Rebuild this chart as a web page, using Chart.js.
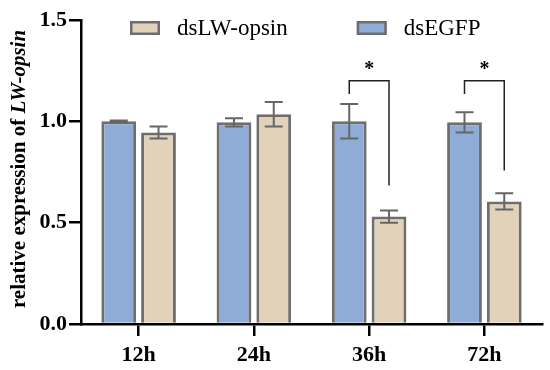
<!DOCTYPE html>
<html>
<head>
<meta charset="UTF-8">
<script src="https://cdn.jsdelivr.net/npm/chart.js"></script>
<style>
    body { margin: 0; background: #fff; }
</style>
</head>
<body>
<canvas id="myChart" width="550" height="370"></canvas>
<script>
    const categorias = ['12h', '24h', '36h', '72h'];
    const egfp = [1.0, 0.995, 1.0, 0.995];
    const egfpErr = [0.004, 0.02, 0.085, 0.05];
    const lwOpsin = [0.945, 1.035, 0.53, 0.605];
    const lwOpsinErr = [0.03, 0.06, 0.03, 0.04];
    const yTicks = [0, 0.5, 1.0, 1.5];

    // brackets de significancia (36h e 72h)
    const sigTexto = [null, null, '*', '*'];
    const sigTopo = [null, null, 1.2, 1.2];
    const sigEsq = [null, null, 1.135, 1.135];
    const sigDir = [null, null, 0.683, 0.758];

    const erros = [egfpErr, lwOpsinErr];
    const serif = '"Liberation Serif", "Times New Roman", serif';

    // barras de erro
    const barrasErro = {
        id: 'barrasErro',
        afterDatasetsDraw(chart) {
            const ctx = chart.ctx, y = chart.scales.y;
            ctx.save();
            ctx.strokeStyle = '#666';
            ctx.lineWidth = 2;
            chart.data.datasets.forEach((ds, i) => {
                chart.getDatasetMeta(i).data.forEach((bar, j) => {
                    const v = ds.data[j], e = erros[i][j];
                    const yHi = y.getPixelForValue(v + e), yLo = y.getPixelForValue(v - e);
                    ctx.beginPath();
                    ctx.moveTo(bar.x, yHi); ctx.lineTo(bar.x, yLo);
                    ctx.moveTo(bar.x - 9, yHi); ctx.lineTo(bar.x + 9, yHi);
                    ctx.moveTo(bar.x - 9, yLo); ctx.lineTo(bar.x + 9, yLo);
                    ctx.stroke();
                });
            });
            ctx.restore();
        }
    };

    // colchetes com asterisco
    const colchetes = {
        id: 'colchetes',
        afterDatasetsDraw(chart) {
            const ctx = chart.ctx, y = chart.scales.y;
            const a = chart.getDatasetMeta(0).data, b = chart.getDatasetMeta(1).data;
            ctx.save();
            ctx.strokeStyle = '#222';
            ctx.lineWidth = 1.5;
            ctx.fillStyle = '#000';
            ctx.font = 'bold 20px ' + serif;
            ctx.textAlign = 'center';
            ctx.textBaseline = 'middle';
            sigTexto.forEach((t, j) => {
                if (!t) return;
                const x1 = a[j].x, x2 = b[j].x, yt = y.getPixelForValue(sigTopo[j]);
                ctx.beginPath();
                ctx.moveTo(x1, y.getPixelForValue(sigEsq[j]));
                ctx.lineTo(x1, yt);
                ctx.lineTo(x2, yt);
                ctx.lineTo(x2, y.getPixelForValue(sigDir[j]));
                ctx.stroke();
                ctx.fillText(t, (x1 + x2) / 2, yt - 11);
            });
            ctx.restore();
        }
    };

    // legenda dentro da area do grafico
    const legendaInterna = {
        id: 'legendaInterna',
        afterDraw(chart) {
            const ctx = chart.ctx, area = chart.chartArea;
            let x = area.left + 49;
            const yc = area.top + 8;
            ctx.save();
            ctx.font = '23px ' + serif;
            ctx.textBaseline = 'middle';
            [1, 0].forEach(i => {
                const ds = chart.data.datasets[i];
                ctx.fillStyle = ds.backgroundColor;
                ctx.fillRect(x, yc - 7, 30, 14);
                ctx.strokeStyle = ds.borderColor;
                ctx.lineWidth = 2.5;
                ctx.strokeRect(x + 1.25, yc - 5.75, 27.5, 11.5);
                ctx.fillStyle = '#000';
                ctx.fillText(ds.label, x + 47, yc + 1);
                x += 47 + ctx.measureText(ds.label).width + 69;
            });
            ctx.restore();
        }
    };

    // titulo do eixo y com parte em italico
    const tituloY = {
        id: 'tituloY',
        afterDraw(chart) {
            const ctx = chart.ctx, area = chart.chartArea;
            const p1 = 'relative expression of ', p2 = 'LW-opsin';
            const f1 = 'bold 21px ' + serif, f2 = 'italic bold 21px ' + serif;
            ctx.save();
            ctx.translate(20, (area.top + area.bottom) / 2 - 3);
            ctx.rotate(-Math.PI / 2);
            ctx.textBaseline = 'middle';
            ctx.fillStyle = '#000';
            ctx.font = f1;
            const w1 = ctx.measureText(p1).width;
            ctx.font = f2;
            const w2 = ctx.measureText(p2).width;
            let x = -(w1 + w2) / 2;
            ctx.font = f1;
            ctx.fillText(p1, x, 0);
            ctx.font = f2;
            ctx.fillText(p2, x + w1, 0);
            ctx.restore();
        }
    };

    const data = {
        labels: categorias,
        datasets: [{
            label: 'dsEGFP',
            data: egfp,
            backgroundColor: 'rgb(143, 172, 214)',
            borderColor: 'rgb(110, 110, 110)',
            borderWidth: 3,
            categoryPercentage: 0.69,
            barPercentage: 0.875
        }, {
            label: 'dsLW-opsin',
            data: lwOpsin,
            backgroundColor: 'rgb(226, 210, 186)',
            borderColor: 'rgb(110, 110, 110)',
            borderWidth: 3,
            categoryPercentage: 0.69,
            barPercentage: 0.875
        }]
    };

    const config = {
        type: 'bar',
        data: data,
        options: {
            responsive: false,
            animation: false,
            layout: { padding: { top: 20, right: 8, left: 0, bottom: 0 } },
            plugins: { legend: { display: false }, tooltip: { enabled: false } },
            scales: {
                x: {
                    grid: { display: true, drawOnChartArea: false, offset: false, tickLength: 12, color: '#000', lineWidth: 2.5 },
                    border: { color: '#000', width: 2.5 },
                    ticks: { color: '#000', font: { family: serif, size: 22, weight: 'bold' }, padding: 6 },
                    afterFit: s => { s.height = 46; }
                },
                y: {
                    min: 0,
                    max: 1.5,
                    afterBuildTicks: s => { s.ticks = yTicks.map(v => ({ value: v })); },
                    grid: { display: true, drawOnChartArea: false, tickLength: 12, color: '#000', lineWidth: 2.5 },
                    border: { color: '#000', width: 2.5 },
                    ticks: { color: '#000', font: { family: serif, size: 22, weight: 'bold' }, padding: 2,
                        callback: v => Number(v).toFixed(1) },
                    afterFit: s => { s.width = 81; }
                }
            }
        },
        plugins: [barrasErro, colchetes, legendaInterna, tituloY]
    };

    const myChart = new Chart(document.getElementById('myChart'), config);
</script>
</body>
</html>
